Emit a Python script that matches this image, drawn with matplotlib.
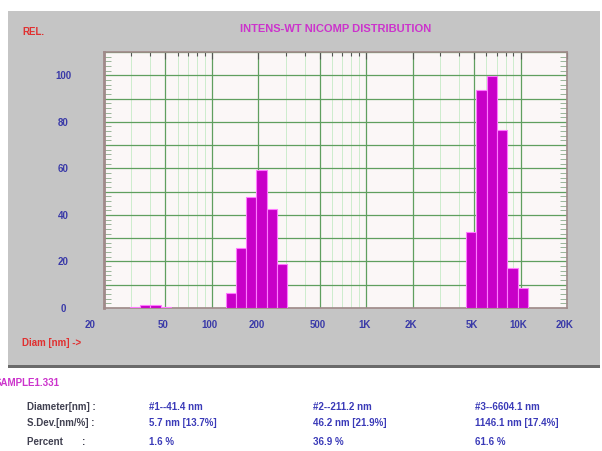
import matplotlib.pyplot as plt
from matplotlib.patches import Rectangle
from matplotlib.ticker import FixedLocator, NullFormatter
from matplotlib.transforms import offset_copy

plt.rcParams['font.family'] = ['Liberation Sans', 'DejaVu Sans']

# histogram bins (diameter in nm)
bin_lo = [29.4, 34.3, 39.9, 46.5,
          123.0, 143.4, 166.9, 194.3, 226.2, 263.3,
          4430, 5170, 6030, 7040, 8210, 9590]
bin_hi = [34.3, 39.9, 46.5, 54.2,
          143.4, 166.9, 194.3, 226.2, 263.3, 306.4,
          5170, 6030, 7040, 8210, 9590, 11200]
heights = [0.5, 1.2, 1.3, 0.6,
           6.4, 25.7, 47.8, 59.2, 42.7, 19.1,
           32.8, 93.8, 99.8, 76.5, 17.0, 8.8]

x_ticks = [20, 50, 100, 200, 500, 1000, 2000, 5000, 10000, 20000]
x_labels = ['20', '50', '100', '200', '500', '1K', '2K', '5K', '10K', '20K']
y_ticks = [0, 20, 40, 60, 80, 100]

peak_nm = [41.4, 211.2, 6604.1]
sdev_nm = [5.7, 46.2, 1146.1]
sdev_pct = [13.7, 21.9, 17.4]
percent = [1.6, 36.9, 61.6]

W, H = 602, 452
fig = plt.figure(figsize=(W / 100, H / 100), dpi=100)
fig.patch.set_facecolor('white')


def fx(px):
    return px / W


def fy(py):
    return 1 - py / H


# grey instrument panel
fig.patches.append(Rectangle((fx(8), fy(368)), fx(592), (368 - 12) / H,
                             transform=fig.transFigure, facecolor='#c5c5c5',
                             edgecolor='none', zorder=-10))
fig.patches.append(Rectangle((fx(8), fy(369)), fx(592), 3 / H,
                             transform=fig.transFigure, facecolor='#6a6a6a',
                             edgecolor='none', zorder=-10))

ax = fig.add_axes([fx(104), fy(309), (567 - 104) / W, (309 - 53) / H])
ax.set_facecolor('#fbf7f7')
ax.set_xscale('log')
ax.set_xlim(20, 20000)
ax.set_ylim(0, 110)

widths = [h - l for l, h in zip(bin_lo, bin_hi)]
ax.bar(bin_lo, heights, width=widths, align='edge', color='#c800c8',
       edgecolor='#ff7aff', linewidth=0.8, zorder=3)

# grid: minor positions skip the major ones so lines don't overlap
minor_x = [m * 10 ** e for e in range(1, 5) for m in range(2, 10)]
minor_x = [v for v in minor_x if 20 < v < 20000 and v not in x_ticks]
minor_y = [v for v in range(0, 111, 2) if v % 10]
ax.xaxis.set_major_locator(FixedLocator(x_ticks))
ax.xaxis.set_minor_locator(FixedLocator(minor_x))
ax.xaxis.set_minor_formatter(NullFormatter())
ax.set_xticklabels([])
ax.yaxis.set_major_locator(FixedLocator(range(0, 111, 10)))
ax.yaxis.set_minor_locator(FixedLocator(minor_y))
ax.set_yticklabels([])
ax.grid(which='major', color='#5f9f5f', linewidth=0.9, zorder=1)
ax.grid(which='minor', axis='x', color='#cdeccd', linewidth=0.7, zorder=1)
ax.set_axisbelow(True)

ax.tick_params(axis='x', which='both', direction='in', top=True, bottom=False,
               color='#555555', width=0.8)
ax.tick_params(axis='x', which='major', length=5)
ax.tick_params(axis='x', which='minor', length=3)
ax.tick_params(axis='y', which='major', length=0)
ax.tick_params(axis='y', which='minor', direction='in', left=True, right=True,
               length=5, color='#8aaa8a', width=0.6)

for side, lw in (('left', 2.0), ('bottom', 1.2), ('top', 1.2), ('right', 1.2)):
    ax.spines[side].set_color('#a08a8a')
    ax.spines[side].set_linewidth(lw)

# axis labels drawn as text
tick_col = '#3a3aa8'
for v, lab in zip(x_ticks, x_labels):
    dx = -14 if v == 20 else -2
    tr = offset_copy(ax.get_xaxis_transform(), fig=fig, x=dx, y=-16, units='dots')
    ax.text(v, 0, lab, transform=tr, ha='center', va='center', fontsize=7,
            fontweight='bold', color=tick_col)
for v in y_ticks:
    tr = offset_copy(ax.get_yaxis_transform(), fig=fig, x=-41, y=0, units='dots')
    ax.text(0, v, str(v), transform=tr, ha='center', va='center', fontsize=7,
            fontweight='bold', color=tick_col)

fig.text(fx(22), fy(32), 'REL.', color='#e03030', fontsize=7, fontweight='bold',
         va='center')
fig.text(fx(336), fy(29), 'INTENS-WT NICOMP DISTRIBUTION', color='#cc33cc',
         fontsize=8, fontweight='bold', ha='center', va='center')
fig.text(fx(22), fy(343), 'Diam [nm] ->', color='#e03030', fontsize=7,
         fontweight='bold', va='center')

# results table
fig.text(fx(-5), fy(383), 'SAMPLE1.331', color='#cc33cc', fontsize=7,
         fontweight='bold', va='center')
row_y = [407, 423, 442]
row_names = ['Diameter[nm] :', 'S.Dev.[nm/%] :', 'Percent       :']
col_x = [149, 313, 475]
for y, name in zip(row_y, row_names):
    fig.text(fx(27), fy(y), name, color='#404050', fontsize=7,
             fontweight='bold', va='center')
for i, x in enumerate(col_x):
    fig.text(fx(x), fy(row_y[0]), '#%d--%.1f nm' % (i + 1, peak_nm[i]),
             color='#3a3ab8', fontsize=7, fontweight='bold', va='center')
    fig.text(fx(x), fy(row_y[1]), '%.1f nm [%.1f%%]' % (sdev_nm[i], sdev_pct[i]),
             color='#3a3ab8', fontsize=7, fontweight='bold', va='center')
    fig.text(fx(x), fy(row_y[2]), '%.1f %%' % percent[i],
             color='#3a3ab8', fontsize=7, fontweight='bold', va='center')

fig.savefig('out.png', dpi=100)
